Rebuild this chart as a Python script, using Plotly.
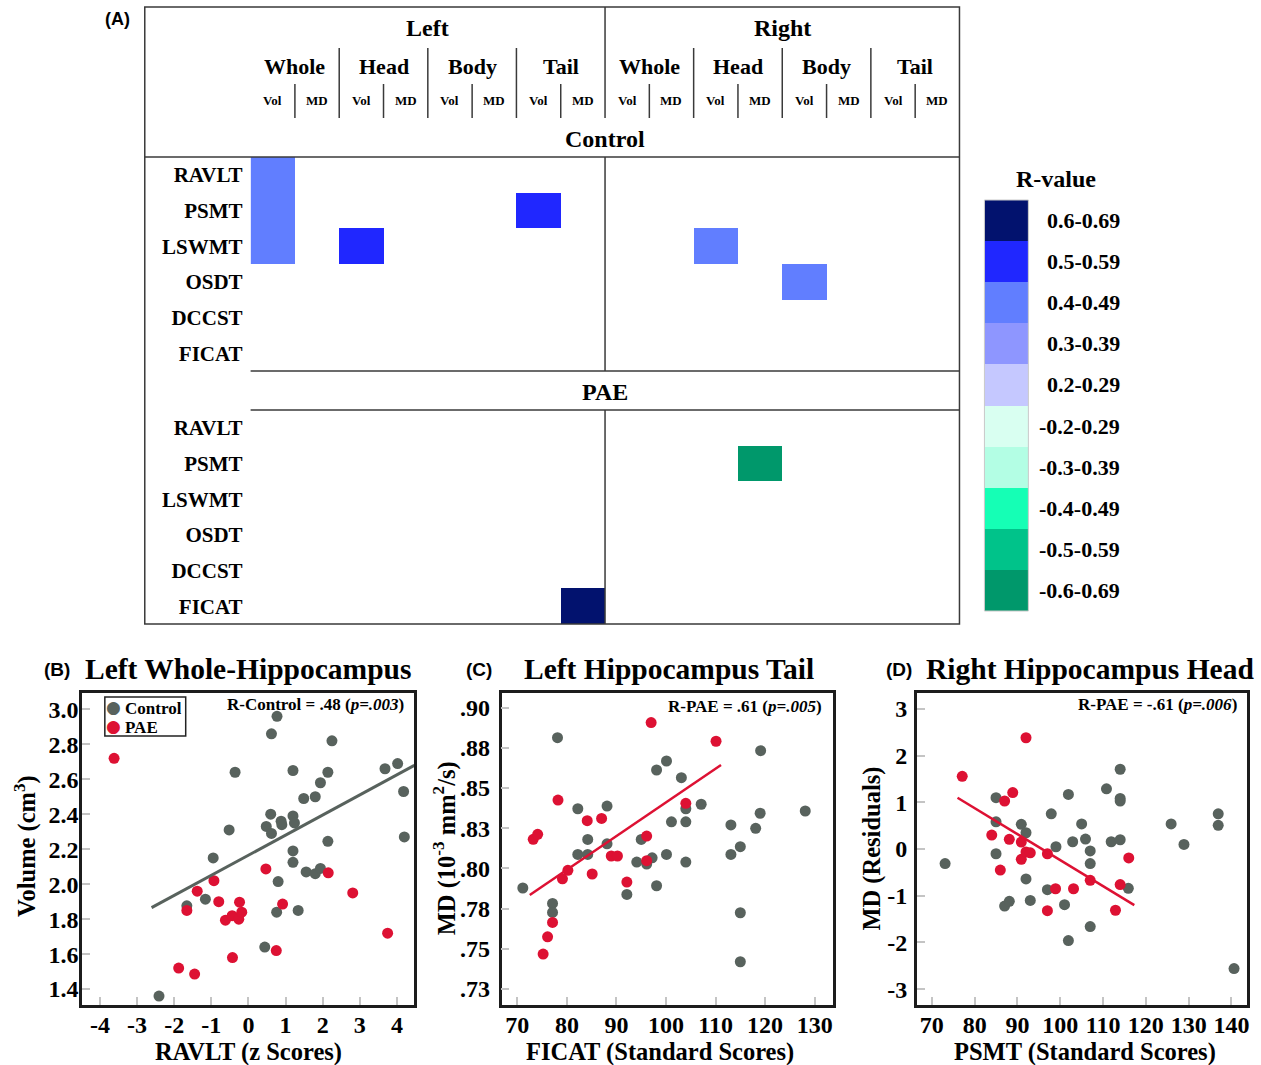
import plotly.graph_objects as go

W, H = 1261, 1065
SERIF = "Liberation Serif"
SANS = "Liberation Sans"


def px_x(x):
    return x / W


def px_y(y):
    return 1 - y / H


# ---------------- Panel A: correlation map ----------------
tests = ["RAVLT", "PSMT", "LSWMT", "OSDT", "DCCST", "FICAT"]
sides = ["Left", "Right"]
regions = ["Whole", "Head", "Body", "Tail"]
measures = ["Vol", "MD"]

bin_labels = ["0.6-0.69", "0.5-0.59", "0.4-0.49", "0.3-0.39", "0.2-0.29",
              "-0.2-0.29", "-0.3-0.39", "-0.4-0.49", "-0.5-0.59", "-0.6-0.69"]
bin_colors = ["#02126E", "#2027FF", "#617EFF", "#8E96FF", "#C5C8FF",
              "#D9FFF1", "#B3FEE4", "#15FFB5", "#00C38A", "#00986B"]

# significant correlations in the control group
ctrl_test = ["RAVLT", "PSMT", "LSWMT", "LSWMT", "PSMT", "LSWMT", "OSDT"]
ctrl_side = ["Left", "Left", "Left", "Left", "Left", "Right", "Right"]
ctrl_region = ["Whole", "Whole", "Whole", "Head", "Tail", "Head", "Body"]
ctrl_measure = ["Vol", "Vol", "Vol", "Vol", "Vol", "Vol", "Vol"]
ctrl_r = [0.48, 0.46, 0.44, 0.54, 0.55, 0.45, 0.43]

# significant correlations in the PAE group
pae_test = ["PSMT", "FICAT"]
pae_side = ["Right", "Left"]
pae_region = ["Head", "Tail"]
pae_measure = ["MD", "MD"]
pae_r = [-0.61, 0.61]

# ---------------- Panel B ----------------
b_ctrl_x = [-0.52, -0.36, 0.77, 0.62, 2.25, 3.68, 4.02, 1.20, 2.14, 1.94, 1.49, 1.80,
            4.18, 0.60, 0.48, 0.62, 0.88, 0.90, 1.20, 1.24, 2.14, 4.20, 1.20, -0.95,
            1.20, 1.555, 1.80, 1.94, 0.80, -1.66, -1.16, 0.76, 1.34, 0.44, -2.41]
b_ctrl_y = [2.31, 2.64, 2.96, 2.86, 2.82, 2.66, 2.69, 2.65, 2.64, 2.58, 2.49, 2.50,
            2.53, 2.40, 2.33, 2.29, 2.36, 2.34, 2.39, 2.35, 2.245, 2.27, 2.19, 2.15,
            2.125, 2.07, 2.06, 2.09, 2.015, 1.876, 1.914, 1.84, 1.85, 1.64, 1.36]
b_pae_x = [-3.62, 0.47, 2.15, -0.93, -1.38, -0.80, -0.24, -1.66, -0.62, -0.44,
           -0.26, -0.18, 0.92, 2.81, 3.75, 0.75, -0.43, -1.88, -1.45]
b_pae_y = [2.72, 2.087, 2.065, 2.02, 1.96, 1.90, 1.897, 1.85, 1.794, 1.82,
           1.80, 1.84, 1.886, 1.95, 1.72, 1.62, 1.58, 1.52, 1.486]
b_fit_x = [-2.61, 4.47]
b_fit_y = [1.866, 2.679]

# ---------------- Panel C ----------------
c_ctrl_x = [78.1, 82.2, 88.1, 98.1, 100.1, 103.1, 104.0, 104.0, 101.1, 107.1, 119.1, 128.1,
            119.0, 113.1, 118.1, 84.2, 95.0, 115.0, 88.1, 71.1, 77.1, 77.1, 82.2, 84.2,
            92.1, 94.1, 97.2, 96.1, 100.1, 98.1, 104.0, 113.1, 115.0, 115.0]
c_ctrl_y = [0.8813, 0.8371, 0.8388, 0.8612, 0.8668, 0.8564, 0.8371, 0.829, 0.829, 0.8399,
            0.8732, 0.8357, 0.8343, 0.827, 0.8249, 0.818, 0.818, 0.8135, 0.8153, 0.7878,
            0.7782, 0.7726, 0.8087, 0.8087, 0.7838, 0.8039, 0.8066, 0.8027, 0.8087, 0.7892,
            0.8039, 0.8087, 0.7724, 0.7419]
c_pae_x = [97.0, 110.1, 78.2, 84.1, 87.0, 104.0, 96.1, 73.2, 74.1, 79.1, 80.2, 85.1,
           88.95, 90.2, 92.1, 96.1, 77.1, 76.1, 75.2]
c_pae_y = [0.8907, 0.8791, 0.8425, 0.8297, 0.8311, 0.8405, 0.8201, 0.8181, 0.8212, 0.7935,
           0.7988, 0.7965, 0.8077, 0.8077, 0.7915, 0.8048, 0.7664, 0.7574, 0.7467]
c_fit_x = [72.5, 111.1]
c_fit_y = [0.7834, 0.8643]

# ---------------- Panel D ----------------
d_ctrl_x = [85.0, 85.0, 90.9, 92.0, 97.9, 101.9, 105.0, 110.8, 114.0, 114.0, 114.0, 125.9,
            136.9, 136.9, 102.9, 105.9, 111.9, 114.0, 99.0, 73.1, 85.0, 107.0, 107.0, 92.0,
            97.0, 93.0, 87.0, 88.1, 101.0, 101.9, 107.0, 115.9, 128.9, 140.6]
d_ctrl_y = [1.10, 0.585, 0.53, 0.35, 0.756, 1.17, 0.54, 1.29, 1.71, 1.086, 1.03, 0.54,
            0.756, 0.51, 0.157, 0.214, 0.157, 0.20, 0.05, -0.31, -0.10, -0.04, -0.31, -0.64,
            -0.87, -1.10, -1.22, -1.12, -1.19, -1.96, -1.66, -0.84, 0.10, -2.56]
d_pae_x = [92.0, 77.1, 87.0, 88.9, 84.0, 88.1, 90.9, 86.0, 90.9, 92.0, 93.0, 97.0,
           98.9, 103.1, 107.0, 97.0, 112.9, 114.0, 116.0]
d_pae_y = [2.385, 1.558, 1.03, 1.21, 0.30, 0.21, 0.15, -0.45, -0.22, -0.06, -0.08, -0.10,
           -0.85, -0.85, -0.67, -1.32, -1.31, -0.76, -0.19]
d_fit_x = [76.0, 117.3]
d_fit_y = [1.10, -1.20]

group_names = ["Control", "PAE"]
GRAY = "#58625D"
RED = "#DD1133"
group_colors = [GRAY, RED]

# ---------------- helpers ----------------
N_COLS = len(sides) * len(regions) * len(measures)
HEAT_X0, HEAT_X1 = 251, 961
CTRL_Y0, CTRL_Y1 = 157, 371
PAE_Y0, PAE_Y1 = 410, 624
BOX_X0, BOX_Y0 = 145, 7


def col_index(side, region, measure):
    return (sides.index(side) * len(regions) + regions.index(region)) * len(measures) + measures.index(measure)


def r_bin(r):
    if r > 0:
        return len(bin_labels) // 2 + 1 - int(r * 10)
    return 3 + int(-r * 10)


def build_z(t_list, s_list, g_list, m_list, r_list):
    z = [[None] * N_COLS for _ in tests]
    for t, s, g, m, r in zip(t_list, s_list, g_list, m_list, r_list):
        z[tests.index(t)][col_index(s, g, m)] = r_bin(r)
    return z


def col_px(c):
    # pixel position of a column coordinate on the map
    return HEAT_X0 + (c + 0.5) / N_COLS * (HEAT_X1 - HEAT_X0)


n_bins = len(bin_colors)
colorscale = []
for i, c in enumerate(bin_colors):
    colorscale.append([i / n_bins, c])
    colorscale.append([(i + 1) / n_bins, c])

ctrl_z = build_z(ctrl_test, ctrl_side, ctrl_region, ctrl_measure, ctrl_r)
pae_z = build_z(pae_test, pae_side, pae_region, pae_measure, pae_r)

fig = go.Figure()
heat_common = dict(x=list(range(N_COLS)), y=list(range(len(tests))), colorscale=colorscale,
                   zmin=-0.5, zmax=n_bins - 0.5, showscale=False, hoverinfo="skip")
fig.add_trace(go.Heatmap(z=ctrl_z, xaxis="x", yaxis="y", **heat_common))
fig.add_trace(go.Heatmap(z=pae_z, xaxis="x2", yaxis="y2", **heat_common))
fig.add_trace(go.Heatmap(z=[[i] for i in range(n_bins)], x=[0], y=list(range(n_bins)),
                         colorscale=colorscale, zmin=-0.5, zmax=n_bins - 0.5,
                         showscale=False, hoverinfo="skip", xaxis="x3", yaxis="y3"))

# scatter panels
mk = dict(size=11)
panels = [
    ("x4", "y4", b_ctrl_x, b_ctrl_y, b_pae_x, b_pae_y, b_fit_x, b_fit_y, GRAY, 3),
    ("x5", "y5", c_ctrl_x, c_ctrl_y, c_pae_x, c_pae_y, c_fit_x, c_fit_y, RED, 2.5),
    ("x6", "y6", d_ctrl_x, d_ctrl_y, d_pae_x, d_pae_y, d_fit_x, d_fit_y, RED, 2.5),
]
for xa, ya, cx, cy, px_, py_, fx, fy, fcol, fw in panels:
    fig.add_trace(go.Scatter(x=cx, y=cy, mode="markers", name=group_names[0],
                             marker=dict(color=GRAY, **mk), xaxis=xa, yaxis=ya))
    fig.add_trace(go.Scatter(x=px_, y=py_, mode="markers", name=group_names[1],
                             marker=dict(color=RED, **mk), xaxis=xa, yaxis=ya))
    fig.add_trace(go.Scatter(x=fx, y=fy, mode="lines", line=dict(color=fcol, width=fw),
                             xaxis=xa, yaxis=ya))

# ---------------- axes ----------------
hidden = dict(showgrid=False, zeroline=False, showticklabels=False, ticks="", showline=False)
row_font = dict(family=SERIF, size=21, color="black", weight="bold")
tick_font = dict(family=SERIF, size=24, color="black", weight="bold")

layout_axes = dict(
    xaxis=dict(domain=[px_x(HEAT_X0), px_x(HEAT_X1)], range=[-0.5, N_COLS - 0.5], anchor="y", **hidden),
    yaxis=dict(domain=[px_y(CTRL_Y1), px_y(CTRL_Y0)], range=[len(tests) - 0.5, -0.5], anchor="x",
               showgrid=False, zeroline=False, ticks="", tickvals=list(range(len(tests))),
               ticktext=tests, tickfont=row_font, ticklabelstandoff=7),
    xaxis2=dict(domain=[px_x(HEAT_X0), px_x(HEAT_X1)], range=[-0.5, N_COLS - 0.5], anchor="y2", **hidden),
    yaxis2=dict(domain=[px_y(PAE_Y1), px_y(PAE_Y0)], range=[len(tests) - 0.5, -0.5], anchor="x2",
                showgrid=False, zeroline=False, ticks="", tickvals=list(range(len(tests))),
                ticktext=tests, tickfont=row_font, ticklabelstandoff=7),
    xaxis3=dict(domain=[px_x(986), px_x(1030)], range=[-0.5, 0.5], anchor="y3", **hidden),
    yaxis3=dict(domain=[px_y(611), px_y(200)], range=[n_bins - 0.5, -0.5], anchor="x3", **hidden),
)


def frame_axis(dom, rng, vals, text, anchor, standoff):
    return dict(domain=dom, range=rng, tickvals=vals, ticktext=text, anchor=anchor,
                ticks="inside", ticklen=8, tickwidth=1.5, tickcolor="#c4c4c4",
                showline=True, linecolor="#1c1c1c", linewidth=2.5, mirror=True,
                showgrid=False, zeroline=False, tickfont=tick_font, ticklabelstandoff=standoff)


PLOT_Y0, PLOT_Y1 = 692.7, 1005
ydom = [px_y(PLOT_Y1), px_y(PLOT_Y0)]

b_xt = [-4, -3, -2, -1, 0, 1, 2, 3, 4]
b_yt = [1.4, 1.6, 1.8, 2.0, 2.2, 2.4, 2.6, 2.8, 3.0]
c_xt = [70, 80, 90, 100, 110, 120, 130]
c_yt = [0.725, 0.75, 0.775, 0.8, 0.825, 0.85, 0.875, 0.9]
c_yt_text = [".73", ".75", ".78", ".80", ".83", ".85", ".88", ".90"]
d_xt = [70, 80, 90, 100, 110, 120, 130, 140]
d_yt = [-3, -2, -1, 0, 1, 2, 3]

layout_axes.update(
    xaxis4=frame_axis([px_x(82.3), px_x(415)], [-4.48, 4.47], b_xt, [str(v) for v in b_xt], "y4", -4),
    yaxis4=frame_axis(ydom, [1.309, 3.095], b_yt, ["%.1f" % v for v in b_yt], "x4", -4),
    xaxis5=frame_axis([px_x(502.3), px_x(834.3)], [66.8, 133.7], c_xt, [str(v) for v in c_xt], "y5", -4),
    yaxis5=frame_axis(ydom, [0.715, 0.9093], c_yt, c_yt_text, "x5", 4),
    xaxis6=frame_axis([px_x(918.3), px_x(1249.3)], [66.5, 143.7], d_xt, [str(v) for v in d_xt], "y6", -4),
    yaxis6=frame_axis(ydom, [-3.34, 3.35], d_yt, [str(v) for v in d_yt], "x6", 2),
)

# ---------------- lines of the map ----------------
LINE = dict(color="#3a3a3a", width=1.5)
shapes = []


def hline(y, x0, x1, line=LINE):
    shapes.append(dict(type="line", xref="paper", yref="paper", x0=px_x(x0), x1=px_x(x1),
                       y0=px_y(y), y1=px_y(y), line=line))


def vline(x, y0, y1, line=LINE):
    shapes.append(dict(type="line", xref="paper", yref="paper", x0=px_x(x), x1=px_x(x),
                       y0=px_y(y0), y1=px_y(y1), line=line))


def rect(x0, y0, x1, y1, line):
    shapes.append(dict(type="rect", xref="paper", yref="paper", x0=px_x(x0), x1=px_x(x1),
                       y0=px_y(y1), y1=px_y(y0), line=line))


rect(BOX_X0, BOX_Y0, HEAT_X1, PAE_Y1, LINE)
hline(CTRL_Y0, BOX_X0, HEAT_X1)
hline(CTRL_Y1, HEAT_X0, HEAT_X1)
hline(PAE_Y0, HEAT_X0, HEAT_X1)
mid = col_px(N_COLS / 2 - 0.5)
vline(mid, BOX_Y0, 118)
vline(mid, CTRL_Y0, CTRL_Y1)
vline(mid, PAE_Y0, PAE_Y1)
for k in range(1, N_COLS):
    if k == N_COLS // 2:
        continue
    xk = col_px(k - 0.5)
    if k % 2 == 0:
        vline(xk, 48, 118)
    else:
        vline(xk, 84, 118)
# outline of the colour key
rect(986, 200, 1030, 611, dict(color="#c8c8c8", width=1))

# ---------------- text ----------------
ann = []


def text(x, y, s, size, family=SERIF, xanchor="center", color="black", **kw):
    ann.append(dict(x=px_x(x), y=px_y(y), xref="paper", yref="paper", text=s, showarrow=False,
                    xanchor=xanchor, yanchor="middle",
                    font=dict(family=family, size=size, color=color, weight="bold"), **kw))


text(118, 19, "(A)", 18, family=SANS)
for si, s in enumerate(sides):
    text(col_px(si * 8 + 3.5), 28, s, 24)
    for ri, r in enumerate(regions):
        text(col_px(si * 8 + ri * 2 + 0.5), 67, r, 22)
        for mi, m in enumerate(measures):
            text(col_px(si * 8 + ri * 2 + mi), 101, m, 13)
text(mid, 139, "Control", 24)
text(mid, 392, "PAE", 24)

# colour key
text(1058, 179, "R-value", 24)
for i, lab in enumerate(bin_labels):
    ann.append(dict(x=px_x(1124), y=i, xref="paper", yref="y3", text=lab, showarrow=False,
                    xanchor="right", yanchor="middle",
                    font=dict(family=SERIF, size=22, color="black", weight="bold")))

# group key of panel B
rect(105, 697, 186, 736, dict(color="#222222", width=1.5))
for gi, (g, gc) in enumerate(zip(group_names, group_colors)):
    text(114, 707 + gi * 19, "\u25CF", 17, family="DejaVu Sans", color=gc, height=16)
    text(123, 708 + gi * 19, g, 17, xanchor="left", height=18)

# scatter titles
text(57, 669, "(B)", 19, family=SANS)
text(83, 669, "Left Whole-Hippocampus", 29.5, xanchor="left")
text(480, 669, "(C)", 19, family=SANS)
text(523, 669, "Left Hippocampus Tail", 29.5, xanchor="left")
text(900, 669, "(D)", 19, family=SANS)
text(925, 669, "Right Hippocampus Head", 29.5, xanchor="left")

# statistics
text(407, 704, "R-Control = .48 (<i>p=.003</i>)", 17, xanchor="right")
text(825, 706, "R-PAE = .61 (<i>p=.005</i>)", 17, xanchor="right")
text(1241, 704, "R-PAE = -.61 (<i>p=.006</i>)", 17, xanchor="right")

# axis titles
text(249, 1052, "RAVLT (z Scores)", 24.5)
text(661, 1052, "FICAT (Standard Scores)", 24.5)
text(1087, 1052, "PSMT (Standard Scores)", 24.5)
text(25, 846, "Volume (cm<sup>3</sup>)", 24.5, textangle=-90)
text(445, 848, "MD (10<sup>-3</sup> mm<sup>2</sup>/s)", 24.5, textangle=-90)
text(873, 849, "MD (Residuals)", 24.5, textangle=-90)

fig.update_layout(
    width=W, height=H, margin=dict(l=0, r=0, t=0, b=0),
    paper_bgcolor="white", plot_bgcolor="white",
    font=dict(family=SERIF, color="black"),
    shapes=shapes, annotations=ann,
    showlegend=False,
    **layout_axes,
)

fig.write_html("out.html")
